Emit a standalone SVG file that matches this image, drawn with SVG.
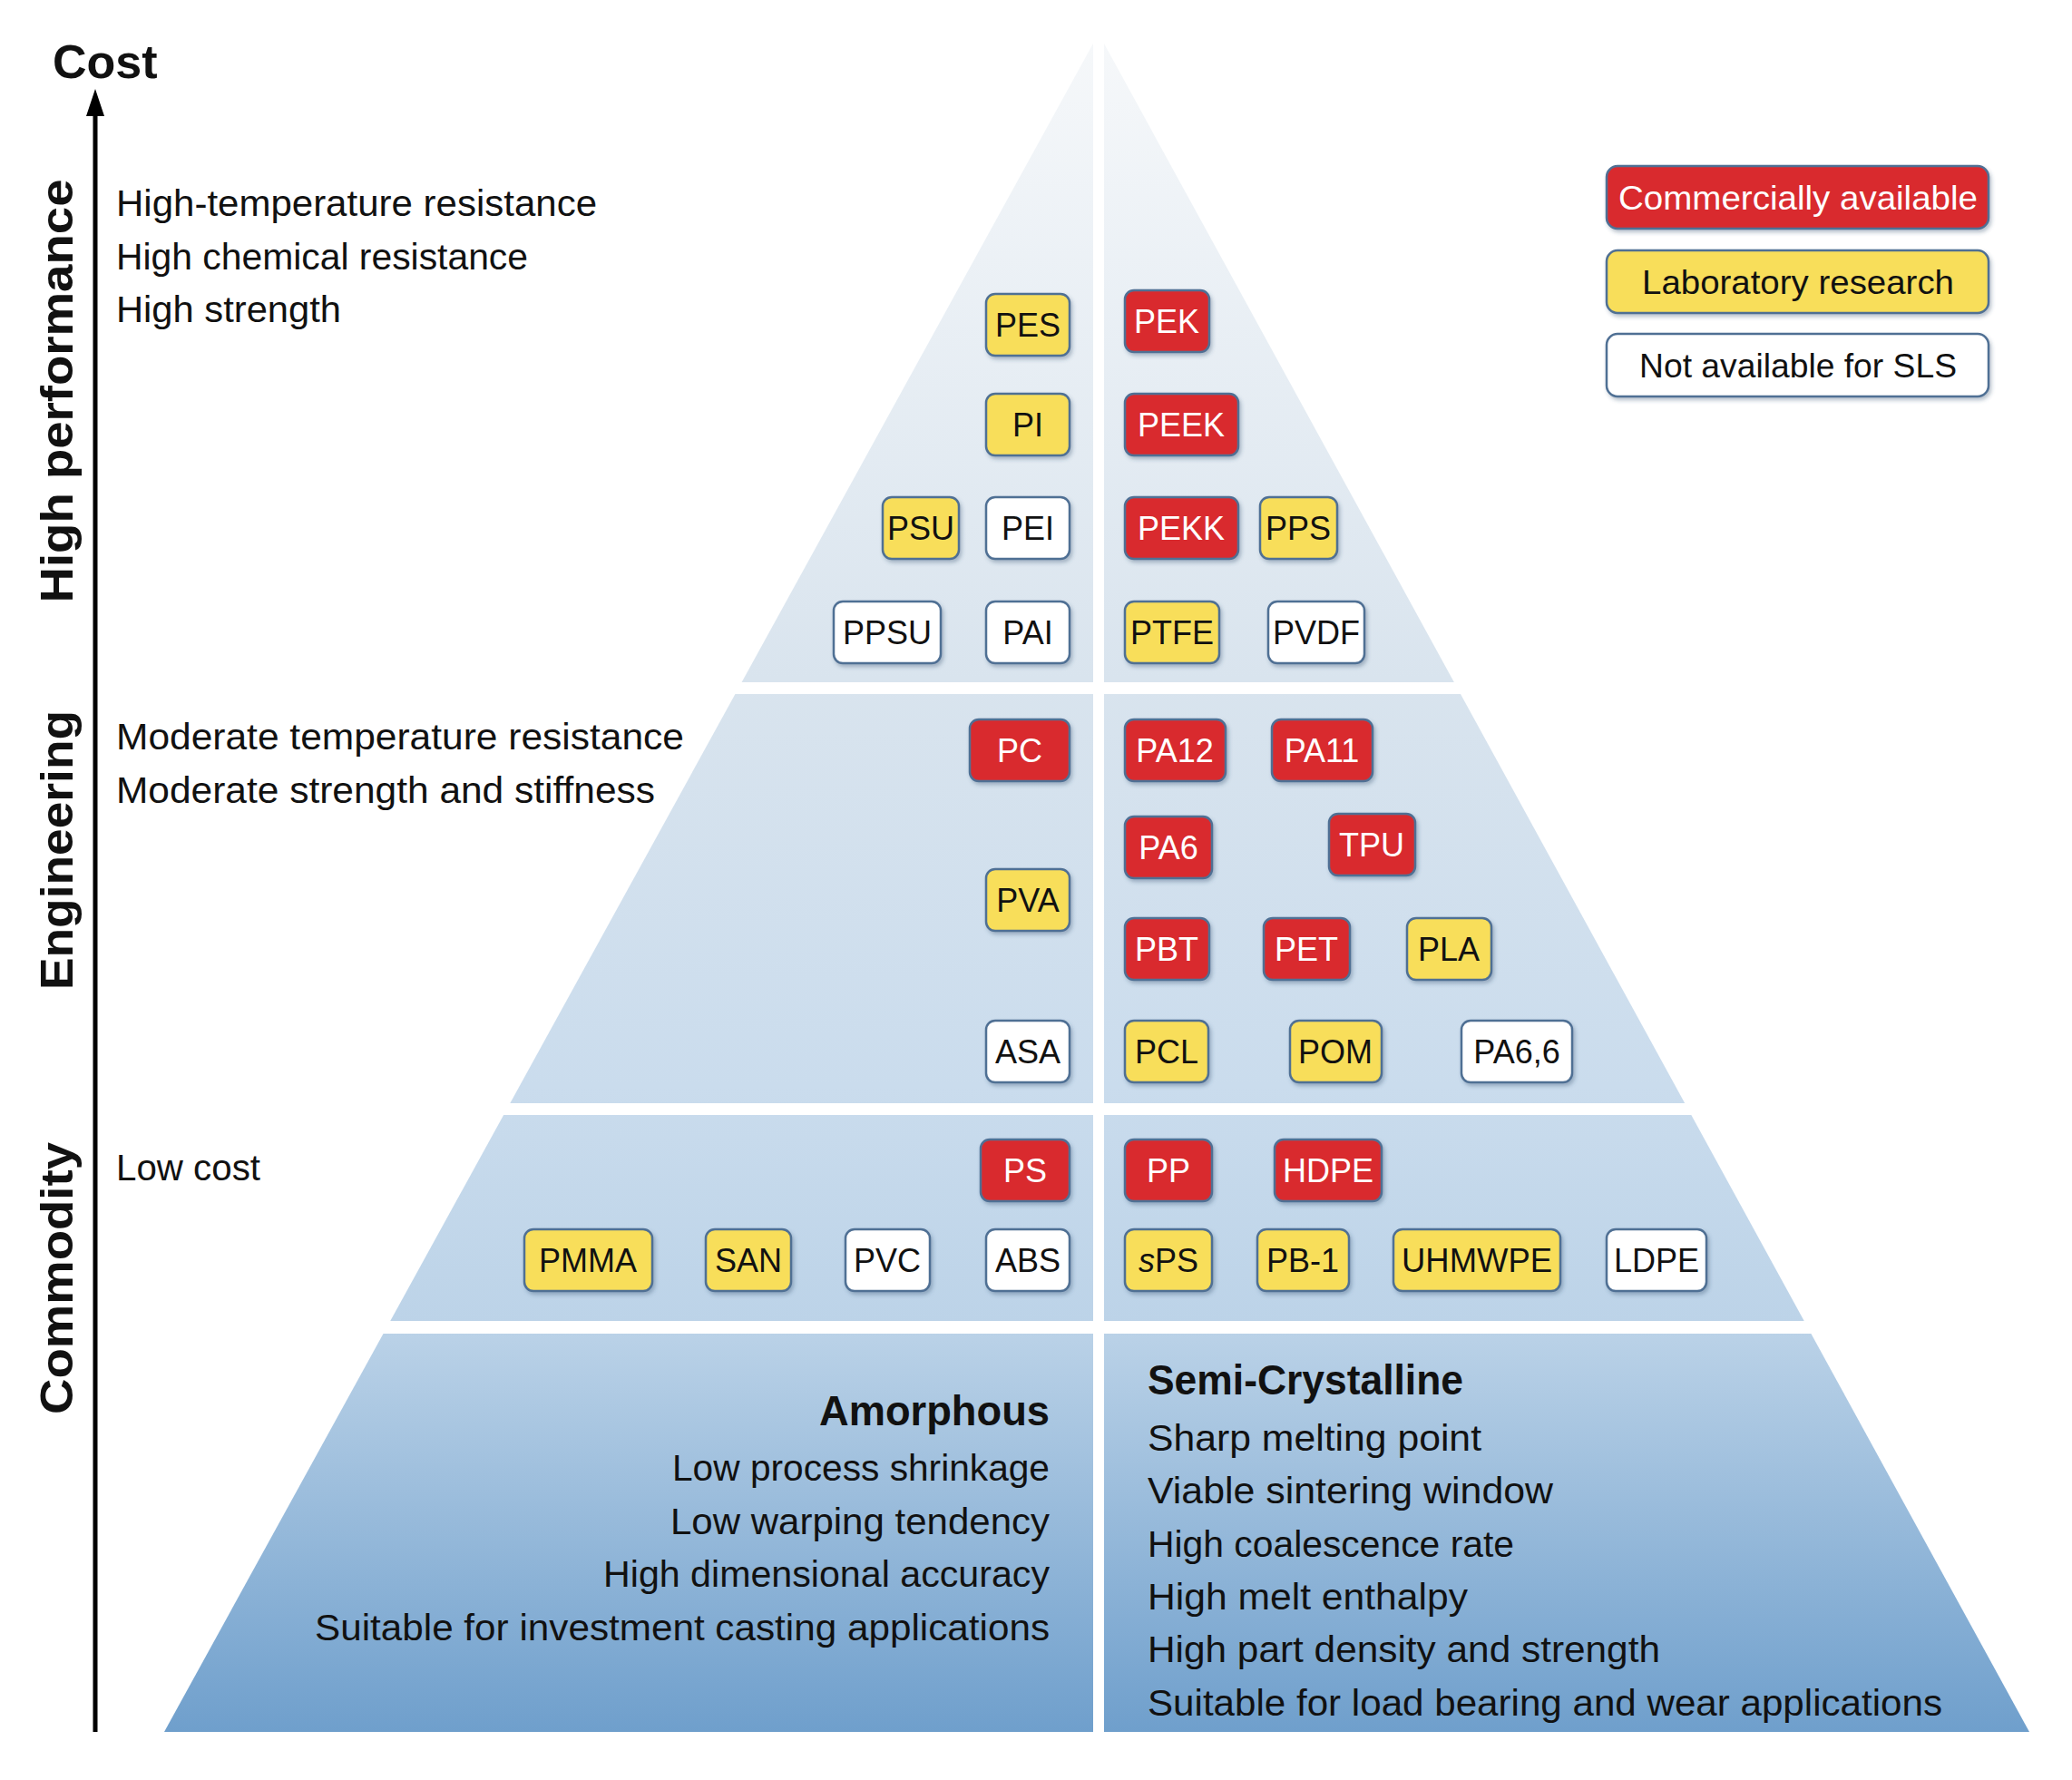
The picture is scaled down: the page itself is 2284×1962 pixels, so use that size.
<svg xmlns="http://www.w3.org/2000/svg" width="2284" height="1962" viewBox="0 0 2284 1962">
<defs>
<linearGradient id="pg" x1="0" y1="37" x2="0" y2="1909" gradientUnits="userSpaceOnUse">
<stop offset="0" stop-color="#f6f8fa"/><stop offset="0.38" stop-color="#d9e4ee"/><stop offset="0.62" stop-color="#cadced"/><stop offset="0.76" stop-color="#bcd3e8"/><stop offset="1" stop-color="#6f9fcc"/>
</linearGradient>
<marker id="ah" viewBox="0 0 20 30" refX="10" refY="2" markerWidth="20" markerHeight="30" orient="auto" markerUnits="userSpaceOnUse"><path d="M10,0 L20,30 L0,30 Z" fill="#000"/></marker>
<filter id="sh" x="-10%" y="-10%" width="130%" height="140%"><feDropShadow dx="2" dy="3" stdDeviation="2" flood-color="#34506e" flood-opacity="0.35"/></filter>
</defs>
<style>
text{font-family:"Liberation Sans","Noto Sans",sans-serif;fill:#111}
.t{font-size:40px}
.b{font-weight:bold}
.ax{font-size:50px;font-weight:bold}
.c rect{stroke:#4f6f94;stroke-width:2.5;filter:url(#sh)}
.c text{font-size:36px;text-anchor:middle}
.r rect{fill:#d92b2f}.r text{fill:#fff}
.y rect{fill:#f8de5a}
.w rect{fill:#fff}
</style>
<rect width="2284" height="1962" fill="#fff"/>
<g id="pyramid">
<polygon points="1211,37 2237,1909 181,1909" fill="url(#pg)"/>
<rect x="1205" y="30" width="12" height="1885" fill="#fff"/>
<rect x="100" y="752" width="2200" height="13" fill="#fff"/>
<rect x="100" y="1216" width="2200" height="13" fill="#fff"/>
<rect x="100" y="1456" width="2200" height="14" fill="#fff"/>
</g>
<g id="connectors">
<line x1="105" y1="1909" x2="105" y2="120" stroke="#000" stroke-width="5"/>
<polygon points="105,98 95,128 115,128" fill="#000"/>
</g>
<g id="axis-labels">
<text x="58" y="86" class="b" font-size="52">Cost</text>
<text class="ax" transform="translate(80,431) rotate(-90)" text-anchor="middle" textLength="467" lengthAdjust="spacingAndGlyphs">High performance</text>
<text class="ax" transform="translate(80,937) rotate(-90)" text-anchor="middle" textLength="308" lengthAdjust="spacingAndGlyphs">Engineering</text>
<text class="ax" transform="translate(80,1409) rotate(-90)" text-anchor="middle" textLength="300" lengthAdjust="spacingAndGlyphs">Commodity</text>
</g>
<g id="tier-notes">
<text class="t" x="128" y="238" textLength="530" lengthAdjust="spacingAndGlyphs">High-temperature resistance</text>
<text class="t" x="128" y="297" textLength="454" lengthAdjust="spacingAndGlyphs">High chemical resistance</text>
<text class="t" x="128" y="355" textLength="248" lengthAdjust="spacingAndGlyphs">High strength</text>
<text class="t" x="128" y="826" textLength="626" lengthAdjust="spacingAndGlyphs">Moderate temperature resistance</text>
<text class="t" x="128" y="885" textLength="594" lengthAdjust="spacingAndGlyphs">Moderate strength and stiffness</text>
<text class="t" x="128" y="1301" textLength="159" lengthAdjust="spacingAndGlyphs">Low cost</text>
</g>
<g id="legend">
<g class="c r"><rect x="1771" y="183" width="421" height="69" rx="12"/><text x="1982" y="231" font-size="38" textLength="396" lengthAdjust="spacingAndGlyphs">Commercially available</text></g>
<g class="c y"><rect x="1771" y="276" width="421" height="69" rx="12"/><text x="1982" y="324" font-size="38" textLength="344" lengthAdjust="spacingAndGlyphs">Laboratory research</text></g>
<g class="c w"><rect x="1771" y="368" width="421" height="69" rx="12"/><text x="1982" y="416" font-size="38" textLength="350" lengthAdjust="spacingAndGlyphs">Not available for SLS</text></g>
</g>
<g id="chips">
<g id="PES" class="c y"><rect x="1087" y="324" width="92" height="68" rx="10"/><text x="1133" y="371">PES</text></g>
<g id="PEK" class="c r"><rect x="1240" y="320" width="93" height="68" rx="10"/><text x="1286" y="367">PEK</text></g>
<g id="PI" class="c y"><rect x="1087" y="434" width="92" height="68" rx="10"/><text x="1133" y="481">PI</text></g>
<g id="PEEK" class="c r"><rect x="1240" y="434" width="125" height="68" rx="10"/><text x="1302" y="481">PEEK</text></g>
<g id="PSU" class="c y"><rect x="973" y="548" width="84" height="68" rx="10"/><text x="1015" y="595">PSU</text></g>
<g id="PEI" class="c w"><rect x="1087" y="548" width="92" height="68" rx="10"/><text x="1133" y="595">PEI</text></g>
<g id="PEKK" class="c r"><rect x="1240" y="548" width="125" height="68" rx="10"/><text x="1302" y="595">PEKK</text></g>
<g id="PPS" class="c y"><rect x="1389" y="548" width="85" height="68" rx="10"/><text x="1431" y="595">PPS</text></g>
<g id="PPSU" class="c w"><rect x="919" y="663" width="118" height="68" rx="10"/><text x="978" y="710">PPSU</text></g>
<g id="PAI" class="c w"><rect x="1087" y="663" width="92" height="68" rx="10"/><text x="1133" y="710">PAI</text></g>
<g id="PTFE" class="c y"><rect x="1240" y="663" width="104" height="68" rx="10"/><text x="1292" y="710">PTFE</text></g>
<g id="PVDF" class="c w"><rect x="1398" y="663" width="106" height="68" rx="10"/><text x="1451" y="710">PVDF</text></g>
<g id="PC" class="c r"><rect x="1069" y="793" width="110" height="68" rx="10"/><text x="1124" y="840">PC</text></g>
<g id="PA12" class="c r"><rect x="1240" y="793" width="111" height="68" rx="10"/><text x="1295" y="840">PA12</text></g>
<g id="PA11" class="c r"><rect x="1402" y="793" width="111" height="68" rx="10"/><text x="1457" y="840">PA11</text></g>
<g id="PA6" class="c r"><rect x="1240" y="900" width="96" height="68" rx="10"/><text x="1288" y="947">PA6</text></g>
<g id="TPU" class="c r"><rect x="1465" y="897" width="95" height="68" rx="10"/><text x="1512" y="944">TPU</text></g>
<g id="PVA" class="c y"><rect x="1087" y="958" width="92" height="68" rx="10"/><text x="1133" y="1005">PVA</text></g>
<g id="PBT" class="c r"><rect x="1240" y="1012" width="93" height="68" rx="10"/><text x="1286" y="1059">PBT</text></g>
<g id="PET" class="c r"><rect x="1393" y="1012" width="95" height="68" rx="10"/><text x="1440" y="1059">PET</text></g>
<g id="PLA" class="c y"><rect x="1551" y="1012" width="93" height="68" rx="10"/><text x="1597" y="1059">PLA</text></g>
<g id="ASA" class="c w"><rect x="1087" y="1125" width="92" height="68" rx="10"/><text x="1133" y="1172">ASA</text></g>
<g id="PCL" class="c y"><rect x="1240" y="1125" width="92" height="68" rx="10"/><text x="1286" y="1172">PCL</text></g>
<g id="POM" class="c y"><rect x="1422" y="1125" width="101" height="68" rx="10"/><text x="1472" y="1172">POM</text></g>
<g id="PA66" class="c w"><rect x="1611" y="1125" width="122" height="68" rx="10"/><text x="1672" y="1172">PA6,6</text></g>
<g id="PS" class="c r"><rect x="1081" y="1256" width="98" height="68" rx="10"/><text x="1130" y="1303">PS</text></g>
<g id="PP" class="c r"><rect x="1240" y="1256" width="96" height="68" rx="10"/><text x="1288" y="1303">PP</text></g>
<g id="HDPE" class="c r"><rect x="1405" y="1256" width="118" height="68" rx="10"/><text x="1464" y="1303">HDPE</text></g>
<g id="PMMA" class="c y"><rect x="578" y="1355" width="141" height="68" rx="10"/><text x="648" y="1402">PMMA</text></g>
<g id="SAN" class="c y"><rect x="778" y="1355" width="94" height="68" rx="10"/><text x="825" y="1402">SAN</text></g>
<g id="PVC" class="c w"><rect x="932" y="1355" width="93" height="68" rx="10"/><text x="978" y="1402">PVC</text></g>
<g id="ABS" class="c w"><rect x="1087" y="1355" width="92" height="68" rx="10"/><text x="1133" y="1402">ABS</text></g>
<g id="sPS" class="c y"><rect x="1240" y="1355" width="96" height="68" rx="10"/><text x="1288" y="1402"><tspan font-style="italic">s</tspan>PS</text></g>
<g id="PB1" class="c y"><rect x="1386" y="1355" width="101" height="68" rx="10"/><text x="1436" y="1402">PB-1</text></g>
<g id="UHMWPE" class="c y"><rect x="1536" y="1355" width="184" height="68" rx="10"/><text x="1628" y="1402" textLength="166" lengthAdjust="spacingAndGlyphs">UHMWPE</text></g>
<g id="LDPE" class="c w"><rect x="1771" y="1355" width="110" height="68" rx="10"/><text x="1826" y="1402">LDPE</text></g>
</g>
<g id="amorphous" text-anchor="end">
<text x="1157" y="1571" class="b" font-size="46" textLength="254" lengthAdjust="spacingAndGlyphs">Amorphous</text>
<text class="t" x="1157" y="1632" textLength="416" lengthAdjust="spacingAndGlyphs">Low process shrinkage</text>
<text class="t" x="1157" y="1691" textLength="418" lengthAdjust="spacingAndGlyphs">Low warping tendency</text>
<text class="t" x="1157" y="1749" textLength="492" lengthAdjust="spacingAndGlyphs">High dimensional accuracy</text>
<text class="t" x="1157" y="1808" textLength="810" lengthAdjust="spacingAndGlyphs">Suitable for investment casting applications</text>
</g>
<g id="semicrystalline">
<text x="1265" y="1537" class="b" font-size="46" textLength="348" lengthAdjust="spacingAndGlyphs">Semi-Crystalline</text>
<text class="t" x="1265" y="1599" textLength="368" lengthAdjust="spacingAndGlyphs">Sharp melting point</text>
<text class="t" x="1265" y="1657" textLength="447" lengthAdjust="spacingAndGlyphs">Viable sintering window</text>
<text class="t" x="1265" y="1716" textLength="404" lengthAdjust="spacingAndGlyphs">High coalescence rate</text>
<text class="t" x="1265" y="1774" textLength="353" lengthAdjust="spacingAndGlyphs">High melt enthalpy</text>
<text class="t" x="1265" y="1832" textLength="565" lengthAdjust="spacingAndGlyphs">High part density and strength</text>
<text class="t" x="1265" y="1891" textLength="876" lengthAdjust="spacingAndGlyphs">Suitable for load bearing and wear applications</text>
</g>
</svg>
